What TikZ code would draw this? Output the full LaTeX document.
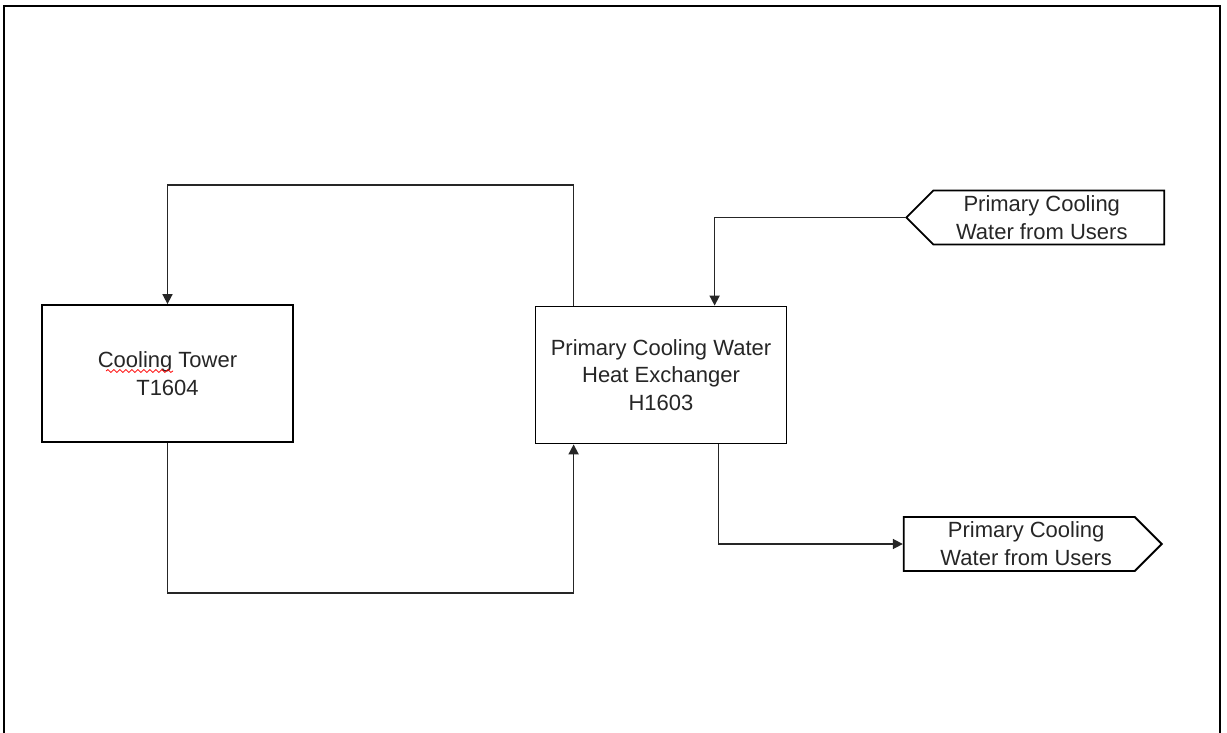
\documentclass[tikz,border=0pt]{standalone}
\usepackage{fontspec}
\setmainfont{Liberation Sans}
\usetikzlibrary{positioning, arrows.meta, calc, shapes.symbols, decorations.pathmorphing}

\tikzset{
    unit/.style={draw=black, line width=0.9pt, minimum width=125.5pt, minimum height=68.5pt,
        align=center, text=black!85, font=\fontsize{11}{13.75}\selectfont},
    tag/.style={draw=black, line width=0.9pt, shape=signal, signal pointer angle=90,
        minimum height=27pt, minimum width=129pt, inner sep=1pt,
        align=center, text=black!85, font=\fontsize{11}{14}\selectfont},
    flow/.style={draw=black!85, line width=0.85pt, -{Triangle[length=5pt, width=5pt]}}
}

\begin{document}
\begin{tikzpicture}[x=0.5pt, y=-0.5pt]
    \useasboundingbox (0,0) rectangle (1227,733);

    % page frame
    \draw[black, line width=1.1pt] (4,733) -- (4,6) -- (1220,6) -- (1220,733);

    % units
    \node[unit] (tower) at (167.5,373.5) {Cooling Tower\\T1604};
    \node[unit] (hx) at (661,375) {Primary Cooling Water\\Heat Exchanger\\H1603};

    % spelling mark
    \draw[red, line width=0.4pt, decorate, decoration={snake, amplitude=0.7pt, segment length=3pt}]
        (106,371) -- (173,371);

    % off-page tags
    \node[tag, signal to=west, anchor=west] (cwin) at (905,217.5)
        {Primary Cooling\hspace*{7pt}\\Water from Users\hspace*{7pt}};
    \node[tag, signal to=east, anchor=east] (cwout) at (1163,544)
        {\hspace*{7pt}Primary Cooling\\\hspace*{7pt}Water from Users};

    % cooling tower loop
    \coordinate (loopt) at (0,185);
    \coordinate (loopb) at (0,593);
    \coordinate (hxret) at ($(hx.north west)+(39,0)$);
    \coordinate (hxsup) at ($(hx.south west)+(39,0)$);
    \draw[flow] (hxret) -- (hxret |- loopt) -| (tower.north);
    \draw[flow] (tower.south) -- (tower.south |- loopb) -| (hxsup);

    % primary cooling water
    \draw[flow] (cwin.west) -| ($(hx.north west)+(180,0)$);
    \draw[flow] ($(hx.south west)+(184,0)$) |- (cwout.west);
\end{tikzpicture}
\end{document}
